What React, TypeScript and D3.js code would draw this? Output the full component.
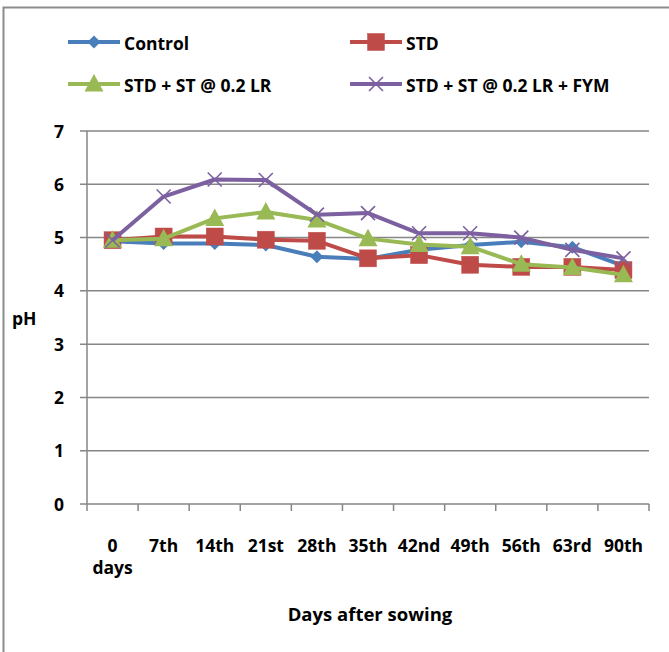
import React from "react";
import * as d3 from "d3";

const categories = ["0 days", "7th", "14th", "21st", "28th", "35th", "42nd", "49th", "56th", "63rd", "90th"];
const controlValues = [4.93, 4.89, 4.89, 4.86, 4.64, 4.6, 4.77, 4.86, 4.92, 4.82, 4.47];
const stdValues = [4.95, 5.02, 5.02, 4.96, 4.94, 4.61, 4.67, 4.49, 4.45, 4.45, 4.39];
const stValues = [4.95, 4.98, 5.36, 5.48, 5.33, 4.98, 4.87, 4.83, 4.5, 4.44, 4.3];
const fymValues = [4.95, 5.77, 6.09, 6.08, 5.43, 5.46, 5.08, 5.08, 5.0, 4.77, 4.61];
const seriesNames = ["Control", "STD", "STD + ST @ 0.2 LR", "STD + ST @ 0.2 LR + FYM"];
const yTicks = [0, 1, 2, 3, 4, 5, 6, 7];

const colors = ["#4A7EBB", "#BE4B48", "#98B954", "#7D60A0"];
const markers = ["diamond", "square", "triangle", "x"];
const FONT = "'Open Sans', 'Liberation Sans', sans-serif";
const FS = 17.5;

function Marker({ type, x, y, color }: { type: string; x: number; y: number; color: string }) {
  if (type === "diamond") {
    const s = 6.5;
    return <path d={`M${x},${y - s}L${x + s},${y}L${x},${y + s}L${x - s},${y}Z`} fill={color} />;
  }
  if (type === "square") {
    const s = 8.5;
    return <rect x={x - s} y={y - s} width={2 * s} height={2 * s} fill={color} stroke="#C0504D" strokeWidth={0.5} />;
  }
  if (type === "triangle") {
    const w = 9.5;
    return <path d={`M${x},${y - 10}L${x + w},${y + 7.5}L${x - w},${y + 7.5}Z`} fill={color} />;
  }
  const s = 7;
  return (
    <path d={`M${x - s},${y - s}L${x + s},${y + s}M${x - s},${y + s}L${x + s},${y - s}`} stroke={color} strokeWidth={1.6} fill="none" />
  );
}

export default function App() {
  const W = 669, H = 652;
  const left = 87, right = 649, top = 131, bottom = 504;
  const x = d3.scaleBand<string>().domain(categories).range([left, right]);
  const y = d3.scaleLinear().domain([0, 7]).range([bottom, top]);
  const allSeries = [controlValues, stdValues, stValues, fymValues];
  const line = d3
    .line<number>()
    .x((_, i) => (x(categories[i]) as number) + x.bandwidth() / 2)
    .y((d) => y(d));
  const grid = "#868686";

  const legendPos = [
    { lx: 68, ly: 42 },
    { lx: 350, ly: 42 },
    { lx: 68, ly: 84 },
    { lx: 350, ly: 84 },
  ];

  return (
    <svg width={W} height={H} style={{ position: "absolute", left: 0, top: 0, background: "#fff" }} fontFamily={FONT}>
      <rect x={0} y={0} width={W} height={H} fill="#fff" />
      {/* frame */}
      <path d={`M3.5,${H}L3.5,7.5L${W},7.5`} fill="none" stroke="#8C8C8C" strokeWidth={2} />

      {/* gridlines */}
      {yTicks.map((t) => (
        <line key={t} x1={left - 7} x2={right} y1={y(t)} y2={y(t)} stroke={grid} strokeWidth={1.5} />
      ))}
      {/* y axis */}
      <line x1={left} x2={left} y1={top} y2={bottom} stroke={grid} strokeWidth={1.5} />
      {/* x ticks */}
      {categories.map((c) => (
        <line key={c} x1={x(c) as number} x2={x(c) as number} y1={bottom} y2={bottom + 7} stroke={grid} strokeWidth={1.5} />
      ))}
      <line x1={right} x2={right} y1={bottom} y2={bottom + 7} stroke={grid} strokeWidth={1.5} />

      {/* y tick labels */}
      {yTicks.map((t) => (
        <text key={t} x={64} y={y(t) + 6.5} textAnchor="end" fontSize={FS} fontWeight={700} fill="#000">
          {t}
        </text>
      ))}
      <text x={12} y={325} fontSize={FS} fontWeight={700} fill="#000">pH</text>

      {/* x tick labels */}
      {categories.map((c) => {
        const cx = (x(c) as number) + x.bandwidth() / 2;
        const parts = c.split(" ");
        return (
          <text key={c} x={cx} y={552} textAnchor="middle" fontSize={FS} fontWeight={700} fill="#000">
            {parts.map((p, j) => (
              <tspan key={j} x={cx} dy={j === 0 ? 0 : 22}>
                {p}
              </tspan>
            ))}
          </text>
        );
      })}
      <text x={370} y={621} textAnchor="middle" fontSize={18.5} fontWeight={700} fill="#000">
        Days after sowing
      </text>

      {/* series */}
      {allSeries.map((vals, si) => (
        <g key={si}>
          <path d={line(vals) as string} fill="none" stroke={colors[si]} strokeWidth={4} strokeLinejoin="round" />
          {vals.map((v, i) => (
            <Marker key={i} type={markers[si]} x={(x(categories[i]) as number) + x.bandwidth() / 2} y={y(v)} color={colors[si]} />
          ))}
        </g>
      ))}

      {/* legend */}
      {seriesNames.map((n, si) => {
        const { lx, ly } = legendPos[si];
        return (
          <g key={n}>
            <line x1={lx} x2={lx + 52} y1={ly} y2={ly} stroke={colors[si]} strokeWidth={4} />
            <Marker type={markers[si]} x={lx + 26} y={ly} color={colors[si]} />
            <text x={lx + 56} y={ly + 7.5} fontSize={FS} fontWeight={700} fill="#000">
              {n}
            </text>
          </g>
        );
      })}
    </svg>
  );
}
